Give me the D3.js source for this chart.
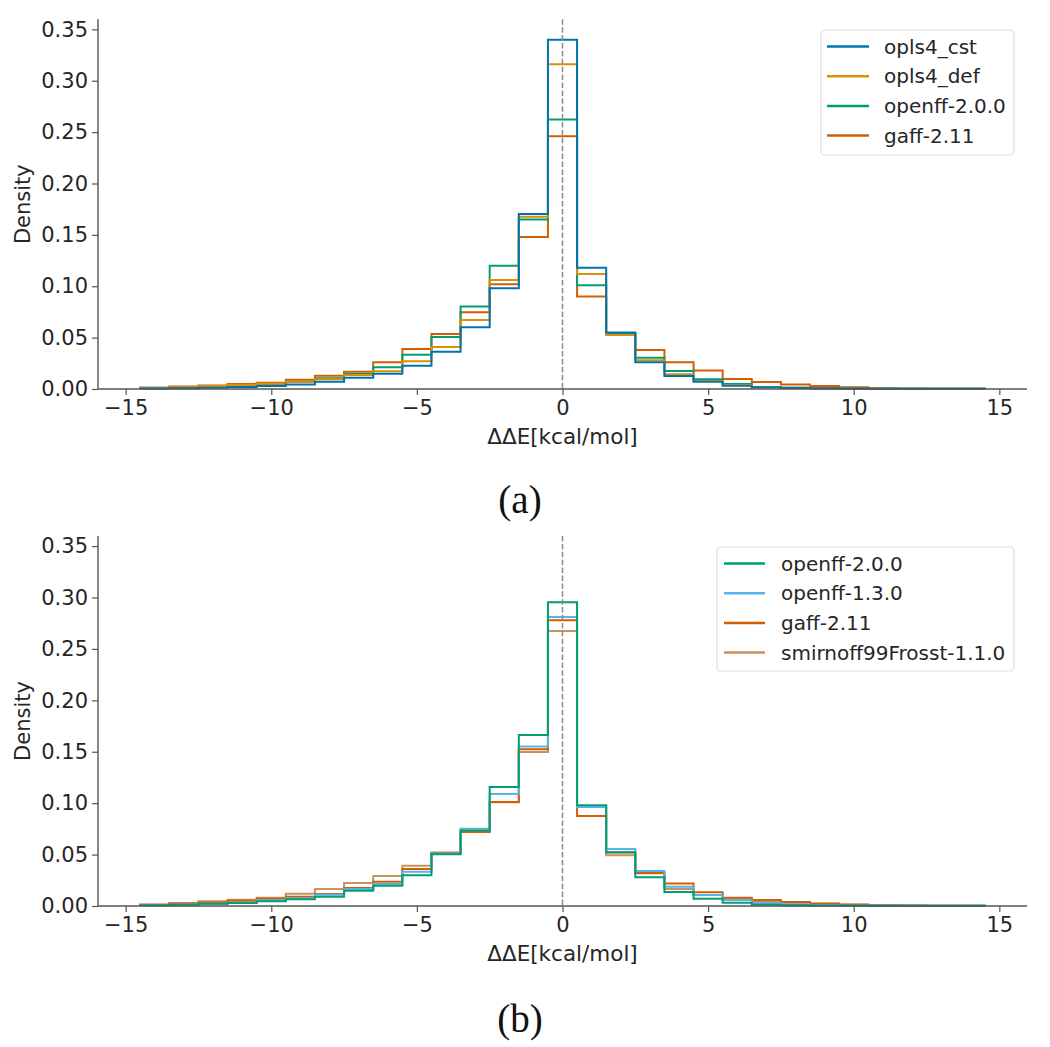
<!DOCTYPE html>
<html><head><meta charset="utf-8">
<script src="https://cdn.jsdelivr.net/npm/d3@7"></script>
<style>body{margin:0;background:#fff}svg{display:block}</style>
</head><body>
<svg id="c" width="1050" height="1047"></svg>
<script>
const binCenters = d3.range(-14, 15, 1);
const xTicks = [-15, -10, -5, 0, 5, 10, 15];
const yTicks = [0, 0.05, 0.10, 0.15, 0.20, 0.25, 0.30, 0.35];

const opls4_cst = [0.0005,0.0008,0.0012,0.0019,0.003,0.0045,0.0071,0.011,0.0149,0.0227,0.0363,0.060,0.098,0.1703,0.340,0.118,0.0551,0.026,0.0127,0.0071,0.0032,0.0016,0.001,0.0007,0.0005,0.0003,0.0003,0.0002,0.0002];
const opls4_def = [0.001,0.0018,0.0028,0.004,0.0052,0.0071,0.0094,0.0136,0.0172,0.027,0.0409,0.0671,0.106,0.1677,0.316,0.112,0.0525,0.028,0.0143,0.0078,0.004,0.002,0.0012,0.0008,0.0005,0.0004,0.0003,0.0002,0.0002];
const openff200_a = [0.0012,0.0015,0.0025,0.0038,0.0049,0.0071,0.0104,0.0146,0.0211,0.0334,0.0506,0.0804,0.120,0.165,0.2624,0.101,0.054,0.0305,0.0175,0.0094,0.0049,0.002,0.0012,0.0008,0.0005,0.0004,0.0003,0.0003,0.0002];
const gaff211_a = [0.0012,0.0025,0.0035,0.0049,0.0062,0.0091,0.013,0.0169,0.026,0.0389,0.0535,0.0746,0.102,0.148,0.2459,0.090,0.053,0.038,0.026,0.018,0.0097,0.0068,0.0045,0.003,0.0016,0.0008,0.0004,0.0003,0.0002];

const openff200_b = [0.0008,0.0013,0.0022,0.003,0.0045,0.0065,0.009,0.0149,0.0198,0.0298,0.0503,0.0733,0.1158,0.1663,0.2954,0.098,0.0522,0.0279,0.0136,0.0071,0.0032,0.0012,0.0008,0.0005,0.0004,0.0003,0.0003,0.0002,0.0002];
const openff130_b = [0.001,0.0015,0.0022,0.0035,0.0055,0.0075,0.011,0.0165,0.0215,0.0334,0.051,0.0752,0.109,0.155,0.281,0.0963,0.0555,0.034,0.0188,0.0107,0.0058,0.003,0.0018,0.001,0.0005,0.0004,0.0003,0.0002,0.0002];
const gaff211_b = [0.0012,0.0025,0.0035,0.005,0.007,0.0091,0.0117,0.0175,0.0237,0.036,0.0519,0.072,0.1012,0.1524,0.2779,0.0875,0.052,0.032,0.022,0.0133,0.0081,0.0058,0.0039,0.0025,0.0015,0.0008,0.0005,0.0003,0.0002];
const smirnoff_b = [0.0015,0.003,0.0045,0.006,0.0081,0.012,0.0165,0.0224,0.0292,0.0392,0.0519,0.0727,0.101,0.1498,0.2675,0.097,0.0493,0.0318,0.0165,0.0107,0.0065,0.0039,0.0032,0.0022,0.0013,0.0008,0.0005,0.0003,0.0002];

const seriesA = [
  {name:"opls4_cst", color:"#0173b2", values:opls4_cst},
  {name:"opls4_def", color:"#de8f05", values:opls4_def},
  {name:"openff-2.0.0", color:"#029e73", values:openff200_a},
  {name:"gaff-2.11", color:"#d55e00", values:gaff211_a}
];
const seriesB = [
  {name:"openff-2.0.0", color:"#029e73", values:openff200_b},
  {name:"openff-1.3.0", color:"#56b4e9", values:openff130_b},
  {name:"gaff-2.11", color:"#d55e00", values:gaff211_b},
  {name:"smirnoff99Frosst-1.1.0", color:"#ca9161", values:smirnoff_b}
];

const svg = d3.select("#c");
const FONT = "DejaVu Sans, sans-serif";
const textColor = "#262626";
const spineColor = "#555";

function panel(series, yTop, yBottom, caption, capY, legBox) {
  const x = d3.scaleLinear().domain([-15.95, 15.95]).range([98, 1027]);
  const y = d3.scaleLinear().domain([0, 0.3598]).range([yBottom, yTop]);
  const g = svg.append("g");

  const line = d3.line().x(d => x(d[0])).y(d => y(d[1]));
  series.slice().reverse().forEach(s => {
    const pts = [[binCenters[0]-0.5, 0]];
    s.values.forEach((v, i) => {
      pts.push([binCenters[i]-0.5, v]);
      pts.push([binCenters[i]+0.5, v]);
    });
    pts.push([binCenters[binCenters.length-1]+0.5, 0]);
    g.append("path").attr("d", line(pts)).attr("fill","none")
      .attr("stroke", s.color).attr("stroke-width", 2).attr("stroke-linejoin","miter");
  });

  g.append("line").attr("x1", x(0)).attr("x2", x(0)).attr("y1", yTop).attr("y2", yBottom)
    .attr("stroke","#8c8c8c").attr("stroke-width",1.5).attr("stroke-dasharray","5.5,2.4");

  const xAxis = g.append("g").attr("transform", `translate(0,${yBottom})`)
    .call(d3.axisBottom(x).tickValues(xTicks).tickSize(6).tickPadding(5)
      .tickFormat(d => (d < 0 ? "\u2212" + Math.abs(d) : String(d))));
  const yAxis = g.append("g").attr("transform", `translate(98,0)`)
    .call(d3.axisLeft(y).tickValues(yTicks).tickSize(6).tickPadding(4)
      .tickFormat(d3.format(".2f")));
  [xAxis, yAxis].forEach(a => {
    a.select(".domain").remove();
    a.selectAll(".tick line").attr("stroke", spineColor).attr("stroke-width", 1.2);
    a.selectAll(".tick text").attr("fill", textColor).style("font-family", FONT).style("font-size","21px");
  });
  g.append("line").attr("x1",98).attr("x2",1027).attr("y1",yBottom).attr("y2",yBottom)
    .attr("stroke",spineColor).attr("stroke-width",1.4);
  g.append("line").attr("x1",98).attr("x2",98).attr("y1",yTop).attr("y2",yBottom)
    .attr("stroke",spineColor).attr("stroke-width",1.4);

  g.append("text").attr("x", x(0)).attr("y", yBottom + 55).attr("text-anchor","middle")
    .attr("fill", textColor).style("font-family", FONT).style("font-size","21.5px")
    .text("\u0394\u0394E[kcal/mol]");
  g.append("text").attr("transform", `translate(30,${(yTop+yBottom)/2}) rotate(-90)`)
    .attr("text-anchor","middle").attr("fill", textColor)
    .style("font-family", FONT).style("font-size","21px").text("Density");

  svg.append("text").attr("x", 520).attr("y", capY).attr("text-anchor","middle")
    .attr("fill","#111").style("font-family","Liberation Serif, DejaVu Serif, serif").style("font-size","39px")
    .text(caption);

  const lg = g.append("g");
  lg.append("rect").attr("x", legBox.x).attr("y", legBox.y).attr("width", legBox.w).attr("height", legBox.h)
    .attr("rx", 4).attr("fill","#fff").attr("fill-opacity",0.85).attr("stroke","#dddddd").attr("stroke-width",1.2);
  series.forEach((s, i) => {
    const cy = legBox.y + 16.5 + i * 29.7;
    lg.append("line").attr("x1", legBox.lx1).attr("x2", legBox.lx2).attr("y1", cy).attr("y2", cy)
      .attr("stroke", s.color).attr("stroke-width", 2.5);
    lg.append("text").attr("x", legBox.tx).attr("y", cy).attr("dy","0.36em")
      .attr("fill", textColor).style("font-family", FONT).style("font-size","20px").text(s.name);
  });
}

panel(seriesA, 19.3, 389, "(a)", 513, {x:821, y:30, w:193, h:125, lx1:827, lx2:869, tx:884});
panel(seriesB, 536, 906, "(b)", 1032, {x:717, y:547, w:297, h:124, lx1:724, lx2:765, tx:781});
</script>
</body></html>
